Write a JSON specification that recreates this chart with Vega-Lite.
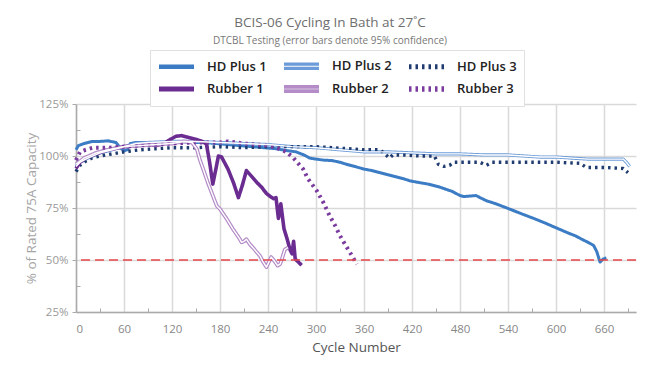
{
  "$schema": "https://vega.github.io/schema/vega-lite/v6.json",
  "width": 560,
  "height": 208,
  "autosize": "none",
  "padding": {"left": 76, "top": 104, "right": 31, "bottom": 63},
  "background": "white",
  "config": {
    "view": {"stroke": null},
    "font": "Open Sans"
  },
  "title": {
    "text": "BCIS-06 Cycling In Bath at 27˚C",
    "subtitle": "DTCBL Testing (error bars denote 95% confidence)",
    "frame": "group",
    "anchor": "middle",
    "dx": -26,
    "offset": 4,
    "font": "Open Sans",
    "fontSize": 13.5,
    "fontWeight": "normal",
    "color": "#6e6e6e",
    "subtitleFont": "Open Sans",
    "subtitleFontSize": 10,
    "subtitleColor": "#777777",
    "subtitlePadding": 6
  },
  "datasets": {
    "curves": [
      {"series": "HD Plus 1", "cycle": 0, "pct": 103},
      {"series": "HD Plus 1", "cycle": 3, "pct": 105},
      {"series": "HD Plus 1", "cycle": 10, "pct": 106},
      {"series": "HD Plus 1", "cycle": 20, "pct": 107},
      {"series": "HD Plus 1", "cycle": 30, "pct": 107},
      {"series": "HD Plus 1", "cycle": 40, "pct": 107.3},
      {"series": "HD Plus 1", "cycle": 50, "pct": 106.5},
      {"series": "HD Plus 1", "cycle": 55, "pct": 104},
      {"series": "HD Plus 1", "cycle": 60, "pct": 102.5},
      {"series": "HD Plus 1", "cycle": 64, "pct": 103},
      {"series": "HD Plus 1", "cycle": 68, "pct": 106},
      {"series": "HD Plus 1", "cycle": 75, "pct": 106.5},
      {"series": "HD Plus 1", "cycle": 90, "pct": 106.5},
      {"series": "HD Plus 1", "cycle": 105, "pct": 106},
      {"series": "HD Plus 1", "cycle": 115, "pct": 106.5},
      {"series": "HD Plus 1", "cycle": 130, "pct": 107},
      {"series": "HD Plus 1", "cycle": 145, "pct": 106.5},
      {"series": "HD Plus 1", "cycle": 160, "pct": 106.5},
      {"series": "HD Plus 1", "cycle": 175, "pct": 106},
      {"series": "HD Plus 1", "cycle": 190, "pct": 105.5},
      {"series": "HD Plus 1", "cycle": 205, "pct": 105},
      {"series": "HD Plus 1", "cycle": 220, "pct": 104.5},
      {"series": "HD Plus 1", "cycle": 235, "pct": 104},
      {"series": "HD Plus 1", "cycle": 250, "pct": 103.5},
      {"series": "HD Plus 1", "cycle": 265, "pct": 102.5},
      {"series": "HD Plus 1", "cycle": 275, "pct": 102},
      {"series": "HD Plus 1", "cycle": 285, "pct": 100.5},
      {"series": "HD Plus 1", "cycle": 292, "pct": 99},
      {"series": "HD Plus 1", "cycle": 300, "pct": 98.5},
      {"series": "HD Plus 1", "cycle": 310, "pct": 98},
      {"series": "HD Plus 1", "cycle": 320, "pct": 97.8},
      {"series": "HD Plus 1", "cycle": 330, "pct": 97},
      {"series": "HD Plus 1", "cycle": 340, "pct": 95.8},
      {"series": "HD Plus 1", "cycle": 350, "pct": 94.8},
      {"series": "HD Plus 1", "cycle": 360, "pct": 93.7},
      {"series": "HD Plus 1", "cycle": 370, "pct": 93},
      {"series": "HD Plus 1", "cycle": 380, "pct": 92},
      {"series": "HD Plus 1", "cycle": 390, "pct": 91},
      {"series": "HD Plus 1", "cycle": 400, "pct": 90},
      {"series": "HD Plus 1", "cycle": 410, "pct": 89},
      {"series": "HD Plus 1", "cycle": 418, "pct": 88},
      {"series": "HD Plus 1", "cycle": 425, "pct": 87.5},
      {"series": "HD Plus 1", "cycle": 440, "pct": 86.5},
      {"series": "HD Plus 1", "cycle": 455, "pct": 85},
      {"series": "HD Plus 1", "cycle": 470, "pct": 83},
      {"series": "HD Plus 1", "cycle": 480, "pct": 81},
      {"series": "HD Plus 1", "cycle": 485, "pct": 80.5},
      {"series": "HD Plus 1", "cycle": 500, "pct": 81},
      {"series": "HD Plus 1", "cycle": 505, "pct": 80},
      {"series": "HD Plus 1", "cycle": 513, "pct": 78.5},
      {"series": "HD Plus 1", "cycle": 525, "pct": 77},
      {"series": "HD Plus 1", "cycle": 542, "pct": 74.5},
      {"series": "HD Plus 1", "cycle": 555, "pct": 72.5},
      {"series": "HD Plus 1", "cycle": 572, "pct": 70},
      {"series": "HD Plus 1", "cycle": 585, "pct": 68},
      {"series": "HD Plus 1", "cycle": 603, "pct": 65},
      {"series": "HD Plus 1", "cycle": 615, "pct": 63},
      {"series": "HD Plus 1", "cycle": 625, "pct": 61.5},
      {"series": "HD Plus 1", "cycle": 632, "pct": 60},
      {"series": "HD Plus 1", "cycle": 640, "pct": 58.5},
      {"series": "HD Plus 1", "cycle": 647, "pct": 57},
      {"series": "HD Plus 1", "cycle": 651, "pct": 54},
      {"series": "HD Plus 1", "cycle": 655, "pct": 49},
      {"series": "HD Plus 1", "cycle": 659, "pct": 50.5},
      {"series": "HD Plus 1", "cycle": 663, "pct": 51},

      {"series": "HD Plus 2", "cycle": 0, "pct": 95},
      {"series": "HD Plus 2", "cycle": 5, "pct": 97},
      {"series": "HD Plus 2", "cycle": 15, "pct": 99},
      {"series": "HD Plus 2", "cycle": 30, "pct": 101.5},
      {"series": "HD Plus 2", "cycle": 45, "pct": 103},
      {"series": "HD Plus 2", "cycle": 60, "pct": 104.5},
      {"series": "HD Plus 2", "cycle": 75, "pct": 106},
      {"series": "HD Plus 2", "cycle": 90, "pct": 106.5},
      {"series": "HD Plus 2", "cycle": 120, "pct": 107},
      {"series": "HD Plus 2", "cycle": 150, "pct": 107},
      {"series": "HD Plus 2", "cycle": 180, "pct": 106.5},
      {"series": "HD Plus 2", "cycle": 210, "pct": 106},
      {"series": "HD Plus 2", "cycle": 240, "pct": 105.5},
      {"series": "HD Plus 2", "cycle": 270, "pct": 104.5},
      {"series": "HD Plus 2", "cycle": 300, "pct": 104},
      {"series": "HD Plus 2", "cycle": 330, "pct": 103},
      {"series": "HD Plus 2", "cycle": 360, "pct": 102},
      {"series": "HD Plus 2", "cycle": 390, "pct": 102},
      {"series": "HD Plus 2", "cycle": 420, "pct": 101.5},
      {"series": "HD Plus 2", "cycle": 450, "pct": 101},
      {"series": "HD Plus 2", "cycle": 480, "pct": 101},
      {"series": "HD Plus 2", "cycle": 510, "pct": 100.5},
      {"series": "HD Plus 2", "cycle": 540, "pct": 100.5},
      {"series": "HD Plus 2", "cycle": 560, "pct": 100},
      {"series": "HD Plus 2", "cycle": 580, "pct": 99.5},
      {"series": "HD Plus 2", "cycle": 600, "pct": 99.5},
      {"series": "HD Plus 2", "cycle": 620, "pct": 99},
      {"series": "HD Plus 2", "cycle": 640, "pct": 98.5},
      {"series": "HD Plus 2", "cycle": 660, "pct": 98.5},
      {"series": "HD Plus 2", "cycle": 675, "pct": 98.5},
      {"series": "HD Plus 2", "cycle": 684, "pct": 98.5},
      {"series": "HD Plus 2", "cycle": 688, "pct": 97},
      {"series": "HD Plus 2", "cycle": 692, "pct": 95},

      {"series": "HD Plus 3", "cycle": 0, "pct": 92.5},
      {"series": "HD Plus 3", "cycle": 5, "pct": 95.5},
      {"series": "HD Plus 3", "cycle": 12, "pct": 97.5},
      {"series": "HD Plus 3", "cycle": 20, "pct": 99},
      {"series": "HD Plus 3", "cycle": 30, "pct": 100},
      {"series": "HD Plus 3", "cycle": 45, "pct": 101},
      {"series": "HD Plus 3", "cycle": 60, "pct": 102},
      {"series": "HD Plus 3", "cycle": 80, "pct": 103},
      {"series": "HD Plus 3", "cycle": 100, "pct": 103.5},
      {"series": "HD Plus 3", "cycle": 120, "pct": 104},
      {"series": "HD Plus 3", "cycle": 150, "pct": 104},
      {"series": "HD Plus 3", "cycle": 180, "pct": 104.5},
      {"series": "HD Plus 3", "cycle": 210, "pct": 104},
      {"series": "HD Plus 3", "cycle": 240, "pct": 104.5},
      {"series": "HD Plus 3", "cycle": 270, "pct": 104.5},
      {"series": "HD Plus 3", "cycle": 300, "pct": 104.5},
      {"series": "HD Plus 3", "cycle": 320, "pct": 104},
      {"series": "HD Plus 3", "cycle": 340, "pct": 103.5},
      {"series": "HD Plus 3", "cycle": 360, "pct": 103},
      {"series": "HD Plus 3", "cycle": 380, "pct": 103},
      {"series": "HD Plus 3", "cycle": 386, "pct": 101},
      {"series": "HD Plus 3", "cycle": 392, "pct": 99},
      {"series": "HD Plus 3", "cycle": 396, "pct": 100.5},
      {"series": "HD Plus 3", "cycle": 410, "pct": 100.5},
      {"series": "HD Plus 3", "cycle": 430, "pct": 100},
      {"series": "HD Plus 3", "cycle": 448, "pct": 100},
      {"series": "HD Plus 3", "cycle": 453, "pct": 96},
      {"series": "HD Plus 3", "cycle": 460, "pct": 95},
      {"series": "HD Plus 3", "cycle": 467, "pct": 95.5},
      {"series": "HD Plus 3", "cycle": 472, "pct": 97},
      {"series": "HD Plus 3", "cycle": 490, "pct": 97},
      {"series": "HD Plus 3", "cycle": 505, "pct": 97},
      {"series": "HD Plus 3", "cycle": 513, "pct": 95.5},
      {"series": "HD Plus 3", "cycle": 520, "pct": 97},
      {"series": "HD Plus 3", "cycle": 560, "pct": 97},
      {"series": "HD Plus 3", "cycle": 600, "pct": 97},
      {"series": "HD Plus 3", "cycle": 630, "pct": 96.5},
      {"series": "HD Plus 3", "cycle": 638, "pct": 94.5},
      {"series": "HD Plus 3", "cycle": 660, "pct": 94.5},
      {"series": "HD Plus 3", "cycle": 684, "pct": 94},
      {"series": "HD Plus 3", "cycle": 690, "pct": 92},

      {"series": "Rubber 1", "cycle": 0, "pct": 94},
      {"series": "Rubber 1", "cycle": 5, "pct": 97},
      {"series": "Rubber 1", "cycle": 12, "pct": 99},
      {"series": "Rubber 1", "cycle": 25, "pct": 101},
      {"series": "Rubber 1", "cycle": 40, "pct": 103},
      {"series": "Rubber 1", "cycle": 60, "pct": 104.5},
      {"series": "Rubber 1", "cycle": 75, "pct": 105},
      {"series": "Rubber 1", "cycle": 90, "pct": 105.5},
      {"series": "Rubber 1", "cycle": 100, "pct": 105},
      {"series": "Rubber 1", "cycle": 110, "pct": 106},
      {"series": "Rubber 1", "cycle": 118, "pct": 108},
      {"series": "Rubber 1", "cycle": 125, "pct": 109.5},
      {"series": "Rubber 1", "cycle": 132, "pct": 109.8},
      {"series": "Rubber 1", "cycle": 140, "pct": 109},
      {"series": "Rubber 1", "cycle": 150, "pct": 108},
      {"series": "Rubber 1", "cycle": 158, "pct": 107},
      {"series": "Rubber 1", "cycle": 163, "pct": 105.8},
      {"series": "Rubber 1", "cycle": 167, "pct": 97},
      {"series": "Rubber 1", "cycle": 171, "pct": 86.5},
      {"series": "Rubber 1", "cycle": 175, "pct": 94},
      {"series": "Rubber 1", "cycle": 178, "pct": 100},
      {"series": "Rubber 1", "cycle": 182, "pct": 99.5},
      {"series": "Rubber 1", "cycle": 190, "pct": 93.7},
      {"series": "Rubber 1", "cycle": 197, "pct": 87},
      {"series": "Rubber 1", "cycle": 203, "pct": 80},
      {"series": "Rubber 1", "cycle": 208, "pct": 86},
      {"series": "Rubber 1", "cycle": 213, "pct": 93},
      {"series": "Rubber 1", "cycle": 220, "pct": 90},
      {"series": "Rubber 1", "cycle": 226, "pct": 87.3},
      {"series": "Rubber 1", "cycle": 232, "pct": 85},
      {"series": "Rubber 1", "cycle": 238, "pct": 82},
      {"series": "Rubber 1", "cycle": 243, "pct": 80.5},
      {"series": "Rubber 1", "cycle": 247, "pct": 79.5},
      {"series": "Rubber 1", "cycle": 250, "pct": 80},
      {"series": "Rubber 1", "cycle": 253, "pct": 70},
      {"series": "Rubber 1", "cycle": 256, "pct": 77},
      {"series": "Rubber 1", "cycle": 260, "pct": 65},
      {"series": "Rubber 1", "cycle": 264, "pct": 60},
      {"series": "Rubber 1", "cycle": 267.5, "pct": 55},
      {"series": "Rubber 1", "cycle": 270, "pct": 53},
      {"series": "Rubber 1", "cycle": 272, "pct": 59},
      {"series": "Rubber 1", "cycle": 274, "pct": 50.5},
      {"series": "Rubber 1", "cycle": 278, "pct": 49},
      {"series": "Rubber 1", "cycle": 282, "pct": 47.5},

      {"series": "Rubber 2", "cycle": 0, "pct": 96},
      {"series": "Rubber 2", "cycle": 10, "pct": 99},
      {"series": "Rubber 2", "cycle": 25, "pct": 101.5},
      {"series": "Rubber 2", "cycle": 40, "pct": 103},
      {"series": "Rubber 2", "cycle": 60, "pct": 104.5},
      {"series": "Rubber 2", "cycle": 80, "pct": 105},
      {"series": "Rubber 2", "cycle": 100, "pct": 105.5},
      {"series": "Rubber 2", "cycle": 120, "pct": 106},
      {"series": "Rubber 2", "cycle": 135, "pct": 107},
      {"series": "Rubber 2", "cycle": 145, "pct": 106.5},
      {"series": "Rubber 2", "cycle": 151, "pct": 103.4},
      {"series": "Rubber 2", "cycle": 155, "pct": 98},
      {"series": "Rubber 2", "cycle": 159, "pct": 93.7},
      {"series": "Rubber 2", "cycle": 165, "pct": 87},
      {"series": "Rubber 2", "cycle": 171, "pct": 81},
      {"series": "Rubber 2", "cycle": 176, "pct": 76},
      {"series": "Rubber 2", "cycle": 180, "pct": 74.5},
      {"series": "Rubber 2", "cycle": 188, "pct": 70},
      {"series": "Rubber 2", "cycle": 196, "pct": 65},
      {"series": "Rubber 2", "cycle": 204, "pct": 60.5},
      {"series": "Rubber 2", "cycle": 207, "pct": 58.5},
      {"series": "Rubber 2", "cycle": 210, "pct": 59},
      {"series": "Rubber 2", "cycle": 213, "pct": 60},
      {"series": "Rubber 2", "cycle": 217, "pct": 57.7},
      {"series": "Rubber 2", "cycle": 221, "pct": 56},
      {"series": "Rubber 2", "cycle": 230, "pct": 52},
      {"series": "Rubber 2", "cycle": 234, "pct": 49},
      {"series": "Rubber 2", "cycle": 238, "pct": 46.6},
      {"series": "Rubber 2", "cycle": 241, "pct": 49},
      {"series": "Rubber 2", "cycle": 244, "pct": 51.4},
      {"series": "Rubber 2", "cycle": 248, "pct": 49.5},
      {"series": "Rubber 2", "cycle": 252, "pct": 47.3},
      {"series": "Rubber 2", "cycle": 255, "pct": 48},
      {"series": "Rubber 2", "cycle": 257, "pct": 50},
      {"series": "Rubber 2", "cycle": 261, "pct": 55},
      {"series": "Rubber 2", "cycle": 265, "pct": 56},

      {"series": "Rubber 3", "cycle": 0, "pct": 98},
      {"series": "Rubber 3", "cycle": 5, "pct": 102},
      {"series": "Rubber 3", "cycle": 12, "pct": 103},
      {"series": "Rubber 3", "cycle": 21, "pct": 104},
      {"series": "Rubber 3", "cycle": 42, "pct": 104},
      {"series": "Rubber 3", "cycle": 60, "pct": 104.5},
      {"series": "Rubber 3", "cycle": 90, "pct": 105.5},
      {"series": "Rubber 3", "cycle": 120, "pct": 106},
      {"series": "Rubber 3", "cycle": 150, "pct": 106.5},
      {"series": "Rubber 3", "cycle": 180, "pct": 106.5},
      {"series": "Rubber 3", "cycle": 190, "pct": 107},
      {"series": "Rubber 3", "cycle": 210, "pct": 106},
      {"series": "Rubber 3", "cycle": 240, "pct": 105},
      {"series": "Rubber 3", "cycle": 250, "pct": 104},
      {"series": "Rubber 3", "cycle": 263, "pct": 102},
      {"series": "Rubber 3", "cycle": 272, "pct": 99},
      {"series": "Rubber 3", "cycle": 280, "pct": 95.4},
      {"series": "Rubber 3", "cycle": 284, "pct": 93.7},
      {"series": "Rubber 3", "cycle": 290, "pct": 89},
      {"series": "Rubber 3", "cycle": 301, "pct": 83.3},
      {"series": "Rubber 3", "cycle": 309, "pct": 77.8},
      {"series": "Rubber 3", "cycle": 317, "pct": 71.3},
      {"series": "Rubber 3", "cycle": 324, "pct": 66.5},
      {"series": "Rubber 3", "cycle": 330, "pct": 61.7},
      {"series": "Rubber 3", "cycle": 336, "pct": 57.7},
      {"series": "Rubber 3", "cycle": 345, "pct": 52},
      {"series": "Rubber 3", "cycle": 351, "pct": 48}
    ],
    "limit": [{"pct": 50}]
  },
  "resolve": {"axis": {"x": "independent", "y": "independent"}},
  "layer": [
    {
      "data": {"name": "curves"},
      "mark": {"type": "line", "strokeCap": "butt", "strokeJoin": "round"},
      "encoding": {
        "x": {
          "field": "cycle", "type": "quantitative",
          "scale": {"domain": [0, 700], "nice": false, "zero": false},
          "axis": {
            "orient": "bottom",
            "values": [0, 60, 120, 180, 240, 300, 360, 420, 480, 540, 600, 660],
            "title": "Cycle Number",
            "titleColor": "#555555", "titleFontSize": 13.5, "titleFontWeight": "normal", "titlePadding": 6,
            "labelColor": "#888888", "labelFontSize": 11.5, "labelPadding": 11,
            "grid": true, "gridColor": "#d9d9d9", "gridWidth": 1.5,
            "domainColor": "#aaaaaa", "domainWidth": 1.5,
            "ticks": false
          }
        },
        "y": {
          "field": "pct", "type": "quantitative",
          "scale": {"domain": [25, 125], "nice": false, "zero": false},
          "axis": {
            "orient": "left",
            "values": [25, 50, 75, 100, 125],
            "labelExpr": "datum.value + '%'",
            "title": "% of Rated 75A Capacity",
            "titleColor": "#a5a5a5", "titleFontSize": 13.5, "titleFontWeight": "normal",
            "titleX": -45, "titleY": 104, "titleAlign": "center", "titleBaseline": "middle", "titleAngle": 270,
            "labelColor": "#999999", "labelFontSize": 11.5, "labelPadding": 4,
            "grid": true, "gridColor": "#d9d9d9", "gridWidth": 1.5,
            "domainColor": "#aaaaaa", "domainWidth": 1.5,
            "tickColor": "#aaaaaa", "tickSize": 4
          }
        },
        "color": {
          "field": "series", "type": "nominal",
          "scale": {
            "domain": ["HD Plus 1", "HD Plus 2", "HD Plus 3", "Rubber 1", "Rubber 2", "Rubber 3"],
            "range": ["#3b7cc4", "#6b9bd8", "#1f3b70", "#6b2c91", "#b48cc8", "#7a3a9e"]
          },
          "legend": {
            "title": null,
            "orient": "none",
            "legendX": 74,
            "legendY": -54,
            "direction": "horizontal",
            "columns": 3,
            "columnPadding": 9,
            "rowPadding": 4,
            "padding": 7,
            "strokeColor": "#e0e0e0",
            "fillColor": "white",
            "symbolType": "M-1,-0.1H4M-1,0H4M-1,0.1H4",
            "symbolSize": 196,
            "symbolStrokeWidth": 1.3,
            "labelFont": "Open Sans",
            "labelFontSize": 13,
            "labelFontWeight": 600,
            "labelColor": "#222222",
            "labelOffset": 32,
            "labelLimit": 80,
            "encode": {
              "symbols": {
                "update": {
                  "shape": {"signal": "(datum.value === 'HD Plus 2' || datum.value === 'Rubber 2') ? 'M-1,-0.3H4M-1,0.3H4' : 'M-1,-0.1H4M-1,0H4M-1,0.1H4'"}
                }
              }
            }
          }
        },
        "strokeDash": {
          "field": "series", "type": "nominal",
          "scale": {
            "domain": ["HD Plus 1", "HD Plus 2", "HD Plus 3", "Rubber 1", "Rubber 2", "Rubber 3"],
            "range": [[1, 0], [1, 0], [2.5, 4], [1, 0], [1, 0], [2.5, 4]]
          }
        },
        "strokeWidth": {
          "field": "series", "type": "nominal",
          "scale": {
            "domain": ["HD Plus 1", "HD Plus 2", "HD Plus 3", "Rubber 1", "Rubber 2", "Rubber 3"],
            "range": [3, 4, 2.8, 3, 4, 2.8]
          },
          "legend": null
        },
        "order": {"field": "cycle", "type": "quantitative"}
      }
    },
    {
      "data": {"name": "curves"},
      "transform": [{"filter": "datum.series === 'HD Plus 2' || datum.series === 'Rubber 2'"}],
      "mark": {"type": "line", "color": "white", "strokeWidth": 1.4, "strokeJoin": "round"},
      "encoding": {
        "x": {
          "field": "cycle", "type": "quantitative",
          "axis": {
            "orient": "bottom",
            "values": [30, 90, 150, 210, 270, 330, 390, 450, 510, 570, 630, 690],
            "labels": false, "grid": false, "domain": false, "title": null,
            "tickColor": "#aaaaaa", "tickSize": -4, "tickWidth": 1
          }
        },
        "y": {
          "field": "pct", "type": "quantitative",
          "axis": {
            "orient": "left",
            "values": [37.5, 62.5, 87.5, 112.5],
            "labels": false, "grid": false, "domain": false, "title": null,
            "tickColor": "#aaaaaa", "tickSize": -4, "tickWidth": 1
          }
        },
        "detail": {"field": "series", "type": "nominal"},
        "order": {"field": "cycle", "type": "quantitative"}
      }
    },
    {
      "data": {"name": "limit"},
      "mark": {"type": "rule", "color": "#e8474a", "strokeWidth": 1.5, "strokeDash": [9, 5]},
      "encoding": {
        "y": {"field": "pct", "type": "quantitative", "axis": null}
      }
    }
  ]
}
